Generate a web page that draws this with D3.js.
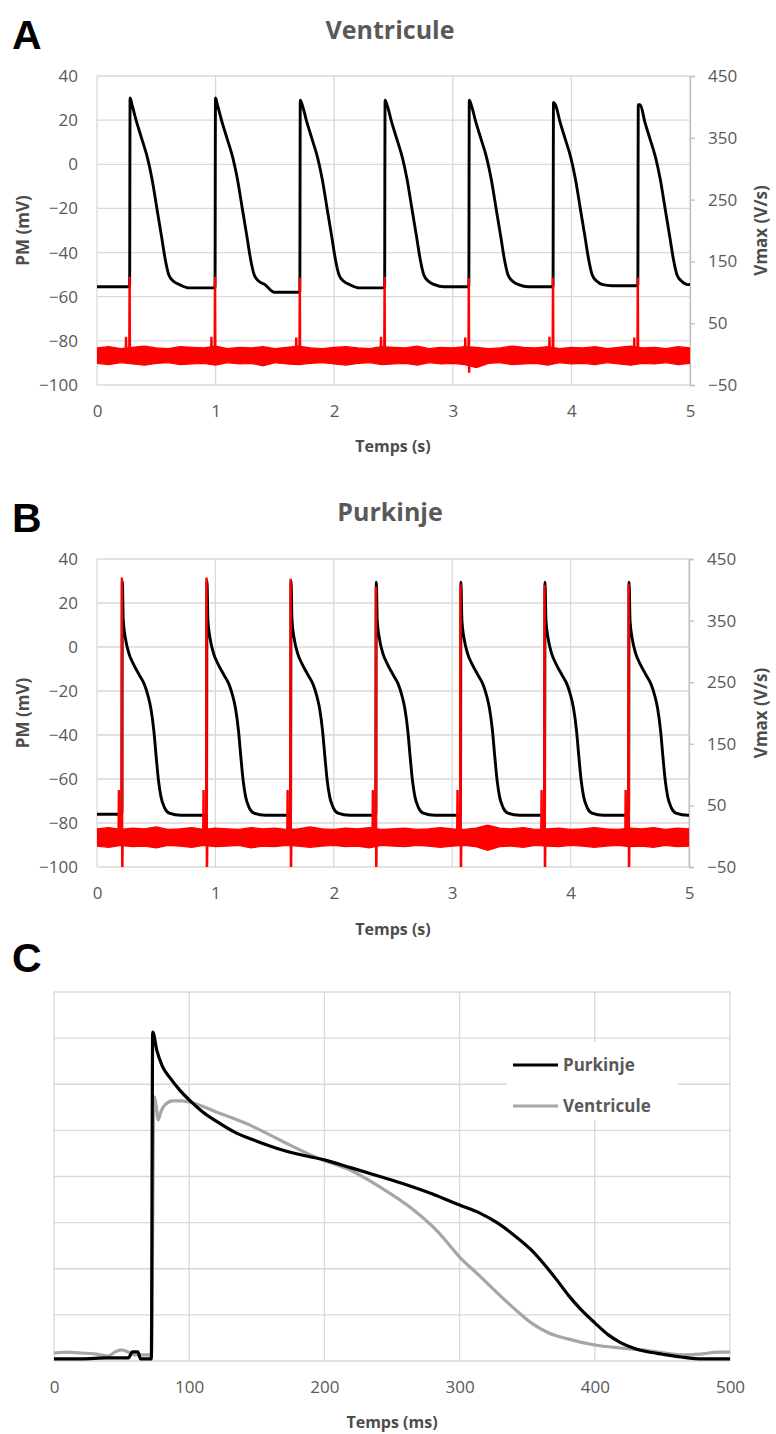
<!DOCTYPE html>
<html><head><meta charset="utf-8">
<script src="https://cdn.jsdelivr.net/npm/d3@7"></script>
<style>
body{margin:0;background:#fff;}
svg{display:block;font-family:"Open Sans",sans-serif;}
</style></head><body>
<svg id="chart" width="776" height="1434"></svg>
<script>
// ---------- shared tick labels ----------
const secTicks = [0, 1, 2, 3, 4, 5];
const pmTicks = [40, 20, 0, -20, -40, -60, -80, -100];
const vmaxTicks = [450, 350, 250, 150, 50, -50];
const msTicks = [0, 100, 200, 300, 400, 500];
const cGridTicks = [-80, -65, -50, -35, -20, -5, 10, 25, 40];

// ---------- Panel A : Ventricule ----------
const ventOnsets = [0.275, 0.995, 1.71, 2.425, 3.135, 3.845, 4.56];
const ventPeaks = [30, 30, 29, 29, 29, 28, 27];
const ventRest = [-55.5, -56, -58, -56, -55.5, -55.5, -55, -54]; // before 1st beat, then after each beat
const ventShapeT = [0.02, 0.06, 0.1, 0.15, 0.19, 0.23, 0.27, 0.3, 0.33, 0.37, 0.42];
const ventShapeV = [27, 19, 12, 3, -7, -20, -33, -43, -50, -53, -54.5];
const ventVmaxPeak = [125, 125, 124, 125, 123, 124, 124];
const ventVmaxDip = [-12, -10, -14, -10, -30, -12, -10];
const ventStim = [28, 28, 27, 28, 27, 28, 27];
const bandT = [0, 0.1, 0.2, 0.3, 0.4, 0.5, 0.6, 0.7, 0.8, 0.9, 1, 1.1, 1.2, 1.3, 1.4, 1.5, 1.6, 1.7, 1.8, 1.9, 2, 2.1, 2.2, 2.3, 2.4, 2.5,
  2.6, 2.7, 2.8, 2.9, 3, 3.1, 3.2, 3.3, 3.4, 3.5, 3.6, 3.7, 3.8, 3.9, 4, 4.1, 4.2, 4.3, 4.4, 4.5, 4.6, 4.7, 4.8, 4.9, 5];
const ventBandHi = [10, 12, 9, 11, 13, 10, 9, 12, 11, 10, 13, 9, 11, 10, 12, 9, 11, 13, 10, 9, 11, 12, 10, 9, 12, 11,
  10, 13, 9, 11, 10, 12, 11, 9, 10, 13, 11, 10, 12, 9, 11, 10, 12, 9, 11, 13, 10, 11, 9, 12, 10];
const ventBandLo = [-15, -17, -14, -16, -18, -15, -14, -17, -16, -15, -18, -14, -16, -15, -19, -14, -16, -17, -15, -14, -16, -18, -15, -14, -17, -16,
  -15, -18, -14, -16, -15, -17, -22, -15, -14, -17, -16, -15, -18, -14, -16, -15, -17, -14, -16, -18, -15, -16, -14, -17, -15];

// ---------- Panel B : Purkinje ----------
const purkOnsets = [0.21, 0.925, 1.635, 2.355, 3.07, 3.78, 4.49];
const purkPeaks = [30, 30, 30, 29.5, 29.5, 29.5, 29.5];
const purkRest = [-76, -76.5, -76.5, -76.5, -76.5, -76.5, -76.5, -76.5];
const purkShapeT = [0.012, 0.03, 0.06, 0.1, 0.15, 0.19, 0.22, 0.245, 0.27, 0.29, 0.31, 0.33, 0.36, 0.4];
const purkShapeV = [12, 4, -3, -8, -13, -17, -22, -28, -38, -50, -61, -68, -73, -75.5];
const purkVmaxPeak = [420, 420, 418, 405, 410, 408, 410];
const purkVmaxDip = [-80, -80, -80, -80, -80, -80, -80];
const purkStim = [75, 75, 75, 75, 75, 75, 75];
const purkBandHi = [12, 14, 11, 13, 12, 15, 11, 12, 14, 11, 13, 12, 11, 14, 12, 13, 11, 12, 15, 12, 11, 13, 12, 14, 11, 12,
  13, 11, 12, 14, 12, 11, 13, 18, 13, 12, 14, 11, 12, 13, 11, 12, 14, 12, 11, 13, 12, 14, 11, 13, 12];
const purkBandLo = [-16, -18, -15, -17, -16, -19, -15, -16, -18, -15, -17, -16, -15, -19, -16, -17, -15, -16, -18, -16, -15, -17, -16, -19, -15, -16,
  -17, -15, -16, -18, -16, -15, -17, -23, -17, -16, -18, -15, -16, -17, -15, -16, -18, -16, -15, -17, -16, -18, -15, -17, -16];

// ---------- Panel C : superposed APs ----------
const purkC_T = [0, 20, 40, 55, 58, 62, 64, 72, 73, 76, 80, 86, 93, 100, 110, 120, 135, 150, 164, 180, 200, 220, 241, 260, 280, 300, 315, 328, 340, 353, 363, 372, 381, 390, 400, 410, 419, 430, 439, 450, 464, 480, 500];
const purkC_V = [-79.3, -79.3, -79, -79, -77, -77, -79.3, -79.3, 27, 21.1, 16, 12, 8.1, 4.9, 1, -2, -5.9, -8.5, -10.7, -12.7, -14.6, -17.2, -20, -22.6, -25.7, -29.3, -31.9, -35.1, -39, -43.9, -48.8, -53.7, -58.9, -63.4, -67.6, -71.5, -74, -76, -77, -77.8, -78.7, -79.3, -79.3];
const ventC_T = [0, 10, 20, 30, 40, 45, 50, 55, 60, 72, 74, 76, 77, 79, 82, 88, 95, 103, 120, 145, 170, 195, 219, 241, 266, 284, 300, 315, 328, 340, 353, 366, 380, 400, 420, 439, 464, 480, 490, 500];
const ventC_V = [-77.4, -77.1, -77.4, -77.7, -78.4, -77.1, -76.4, -77.1, -78, -78, 5.9, 1.6, -1.6, 1, 3.3, 4.6, 4.6, 3.9, 1, -3.3, -8.8, -14, -17.9, -23.4, -30.9, -38, -46.2, -52.4, -57.9, -62.8, -67.6, -70.9, -72.8, -74.8, -75.8, -76.6, -78, -77.7, -77.1, -77.1];
const legendNames = ["Purkinje", "Ventricule"];
const legendColors = ["#000000", "#a6a6a6"];

// ---------- helpers ----------
const svg = d3.select("#chart");
const GRID = "#d9d9d9", TXT = "#595959", TTL = "#4d4d4d";

function buildAP(onsets, peaks, rest, shT, shV) {
  const pts = [[0, rest[0]]];
  onsets.forEach((on, i) => {
    pts.push([on, rest[i]]);
    pts.push([on + 0.004, peaks[i]]);
    shT.forEach((t, k) => pts.push([on + t, shV[k]]));
    pts.push([on + 0.5, rest[i + 1]]);
  });
  pts.push([5.2, rest[rest.length - 1]]);
  return pts;
}
function buildSpikes(onsets, peak, dip, stim, stimLead) {
  const pts = [];
  onsets.forEach((on, i) => {
    pts.push([on - stimLead - 0.003, 0], [on - stimLead, stim[i]], [on - stimLead + 0.003, 0]);
    pts.push([on - 0.003, 0], [on, peak[i]], [on + 0.003, dip[i]], [on + 0.007, 0]);
  });
  return pts;
}

function timePanel(cfg) {
  const g = svg.append("g");
  const x = d3.scaleLinear().domain([0, 5]).range([cfg.x0, cfg.x1]);
  const y = d3.scaleLinear().domain([-100, 40]).range([cfg.y1, cfg.y0]);
  const y2 = d3.scaleLinear().domain([-50, 450]).range([cfg.y1, cfg.y0]);
  // grid
  g.append("g").selectAll("line").data(pmTicks).join("line")
    .attr("x1", cfg.x0).attr("x2", cfg.x1).attr("y1", d => y(d)).attr("y2", d => y(d))
    .attr("stroke", GRID).attr("stroke-width", 1.3);
  g.append("g").selectAll("line").data(secTicks).join("line")
    .attr("x1", d => x(d)).attr("x2", d => x(d)).attr("y1", cfg.y0).attr("y2", cfg.y1)
    .attr("stroke", GRID).attr("stroke-width", 1.3);
  // axes
  const ax = g.append("g").attr("transform", `translate(${cfg.x0},0)`)
    .call(d3.axisLeft(y).tickValues(pmTicks).tickSize(0).tickPadding(19));
  const ar = g.append("g").attr("transform", `translate(${cfg.x1},0)`)
    .call(d3.axisRight(y2).tickValues(vmaxTicks).tickSize(5).tickPadding(13));
  const ab = g.append("g").attr("transform", `translate(0,${cfg.y1})`)
    .call(d3.axisBottom(x).tickValues(secTicks).tickFormat(d3.format("d")).tickSize(0).tickPadding(20));
  ax.select(".domain").remove();
  ab.select(".domain").remove();
  ar.select(".domain").attr("stroke", "#bfbfbf").attr("stroke-width", 1.3);
  ar.selectAll(".tick line").attr("stroke", "#bfbfbf").attr("stroke-width", 1.3);
  [ax, ar, ab].forEach(a => a.selectAll("text").attr("fill", TXT)
    .style("font-size", "17px").style("font-family", '"Open Sans",sans-serif'));
  // clip
  const cid = "clip" + cfg.key;
  svg.append("clipPath").attr("id", cid).append("rect")
    .attr("x", cfg.x0).attr("y", cfg.y0).attr("width", cfg.x1 - cfg.x0).attr("height", cfg.y1 - cfg.y0);
  const plot = g.append("g").attr("clip-path", `url(#${cid})`);
  // AP trace (left axis)
  plot.append("path").datum(cfg.ap)
    .attr("d", d3.line().x(d => x(d[0])).y(d => y(d[1])).curve(d3.curveMonotoneX))
    .attr("fill", "none").attr("stroke", "#000").attr("stroke-width", 2.9).attr("stroke-linejoin", "round");
  // Vmax noise band (right axis)
  plot.append("path").datum(bandT.map((t, i) => [t, cfg.bandLo[i], cfg.bandHi[i]]))
    .attr("d", d3.area().x(d => x(d[0])).y0(d => y2(d[1])).y1(d => y2(d[2])))
    .attr("fill", "#ff0000").attr("stroke", "#ff0000").attr("stroke-width", 1.2);
  // Vmax spikes
  plot.append("path").datum(cfg.spikes)
    .attr("d", d3.line().x(d => x(d[0])).y(d => y2(d[1])))
    .attr("fill", "none").attr("stroke", "#ff0000").attr("stroke-width", 2.4);
  // texts
  svg.append("text").attr("x", 12).attr("y", cfg.letterY).text(cfg.letter)
    .style("font-family", '"Liberation Sans",Arial,sans-serif').style("font-weight", "bold").style("font-size", "41px");
  svg.append("text").attr("x", 390).attr("y", cfg.titleY).attr("text-anchor", "middle").text(cfg.title)
    .attr("fill", TXT).style("font-weight", "bold").style("font-size", "25px");
  svg.append("text").attr("x", 393).attr("y", cfg.xTitleY).attr("text-anchor", "middle")
    .text("Temps (s)").attr("fill", TTL).style("font-weight", "bold").style("font-size", "16px");
  svg.append("text").attr("transform", `translate(29,${(cfg.y0 + cfg.y1) / 2}) rotate(-90)`)
    .attr("text-anchor", "middle").text("PM (mV)").attr("fill", TTL).style("font-weight", "bold").style("font-size", "17px");
  svg.append("text").attr("transform", `translate(767,${(cfg.y0 + cfg.y1) / 2}) rotate(-90)`)
    .attr("text-anchor", "middle").text("Vmax (V/s)").attr("fill", TTL).style("font-weight", "bold").style("font-size", "17px");
}

timePanel({
  key: "A", letter: "A", title: "Ventricule", letterY: 49, titleY: 39, xTitleY: 452,
  x0: 97, x1: 690, y0: 76, y1: 385,
  ap: buildAP(ventOnsets, ventPeaks, ventRest, ventShapeT, ventShapeV),
  spikes: buildSpikes(ventOnsets, ventVmaxPeak, ventVmaxDip, ventStim, 0.03),
  bandHi: ventBandHi, bandLo: ventBandLo
});
timePanel({
  key: "B", letter: "B", title: "Purkinje", letterY: 532, titleY: 521, xTitleY: 935,
  x0: 97, x1: 689, y0: 559, y1: 867,
  ap: buildAP(purkOnsets, purkPeaks, purkRest, purkShapeT, purkShapeV),
  spikes: buildSpikes(purkOnsets, purkVmaxPeak, purkVmaxDip, purkStim, 0.025),
  bandHi: purkBandHi, bandLo: purkBandLo
});

// ---------- Panel C ----------
(function () {
  const x0 = 54, x1 = 730, y0 = 992, y1 = 1361;
  const g = svg.append("g");
  const x = d3.scaleLinear().domain([0, 500]).range([x0, x1]);
  const y = d3.scaleLinear().domain([-80, 40]).range([y1, y0]);
  g.append("g").selectAll("line").data(cGridTicks).join("line")
    .attr("x1", x0).attr("x2", x1).attr("y1", d => y(d)).attr("y2", d => y(d))
    .attr("stroke", GRID).attr("stroke-width", 1.3);
  g.append("g").selectAll("line").data(msTicks).join("line")
    .attr("x1", d => x(d)).attr("x2", d => x(d)).attr("y1", y0).attr("y2", y1)
    .attr("stroke", GRID).attr("stroke-width", 1.3);
  const ab = g.append("g").attr("transform", `translate(0,${y1})`)
    .call(d3.axisBottom(x).tickValues(msTicks).tickSize(0).tickPadding(20));
  ab.select(".domain").remove();
  ab.selectAll("text").attr("fill", TXT).style("font-size", "17px").style("font-family", '"Open Sans",sans-serif');
  const line = d3.line().x(d => x(d[0])).y(d => y(d[1])).curve(d3.curveMonotoneX);
  g.append("path").datum(ventC_T.map((t, i) => [t, ventC_V[i]])).attr("d", line)
    .attr("fill", "none").attr("stroke", legendColors[1]).attr("stroke-width", 3.2).attr("stroke-linejoin", "round");
  g.append("path").datum(purkC_T.map((t, i) => [t, purkC_V[i]])).attr("d", line)
    .attr("fill", "none").attr("stroke", legendColors[0]).attr("stroke-width", 3.2).attr("stroke-linejoin", "round");
  // legend
  g.append("rect").attr("x", 507).attr("y", 1042).attr("width", 171).attr("height", 78).attr("fill", "#fff");
  const lg = g.append("g").selectAll("g").data(legendNames).join("g")
    .attr("transform", (d, i) => `translate(513,${1065 + i * 41})`);
  lg.append("line").attr("x1", 0).attr("x2", 45).attr("stroke", (d, i) => legendColors[i]).attr("stroke-width", 3.2);
  lg.append("text").attr("x", 50).attr("y", 6).text(d => d).attr("fill", TXT)
    .style("font-weight", "bold").style("font-size", "17px");
  svg.append("text").attr("x", 12).attr("y", 972).text("C")
    .style("font-family", '"Liberation Sans",Arial,sans-serif').style("font-weight", "bold").style("font-size", "41px");
  svg.append("text").attr("x", 392).attr("y", 1428).attr("text-anchor", "middle")
    .text("Temps (ms)").attr("fill", TTL).style("font-weight", "bold").style("font-size", "16px");
})();
</script>
</body></html>
